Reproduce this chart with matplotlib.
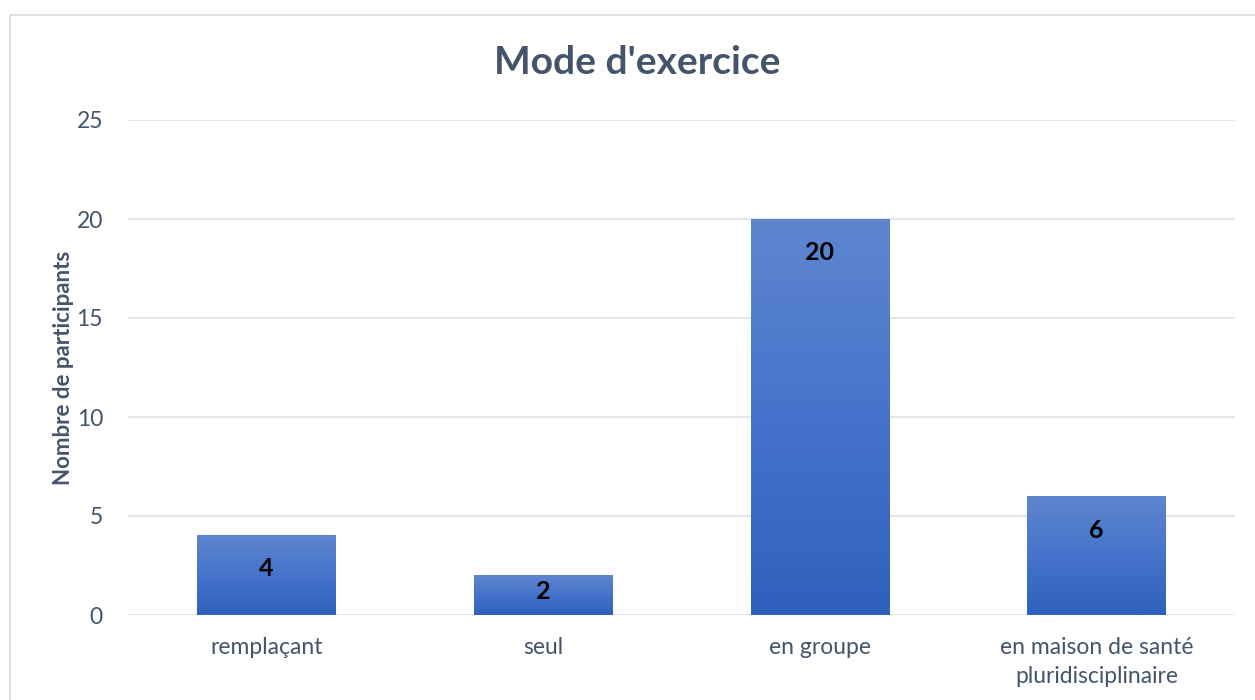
import matplotlib.pyplot as plt
import numpy as np
from matplotlib.patches import Rectangle
from matplotlib.colors import LinearSegmentedColormap

categories = ['remplaçant', 'seul', 'en groupe', 'en maison de santé\npluridisciplinaire']
values = [4, 2, 20, 6]
yticks = [0, 5, 10, 15, 20, 25]

plt.rcParams['font.family'] = ['Lato', 'DejaVu Sans']
text_color = '#44546A'
grad = LinearSegmentedColormap.from_list('bar', ['#2E61BC', '#4673CB', '#5E86CF'])

fig = plt.figure(figsize=(12.55, 7), dpi=100)
ax = fig.add_axes([128 / 1255, 1 - 615 / 700, 1107 / 1255, 495 / 700])

# chart frame
fig.patches.append(Rectangle((10 / 1255, -0.1), 1.2, 1.1 - 15 / 700,
                             transform=fig.transFigure, fill=False,
                             edgecolor='#D9D9D9', lw=1.2))

x = np.arange(len(categories))
width = 0.5
bars = ax.bar(x, values, width=width, color='none', zorder=3)
for b in bars:
    x0, h = b.get_x(), b.get_height()
    img = np.linspace(0, 1, 100).reshape(-1, 1)
    ax.imshow(img, cmap=grad, aspect='auto', origin='lower',
              extent=[x0, x0 + width, 0, h], zorder=3)

for xi, v in zip(x, values):
    off = min(34, v * 19.8 / 2.4) * 0.72
    ax.annotate(str(v), (xi, v), xytext=(0, -off), textcoords='offset points',
                ha='center', va='center', fontsize=18, fontweight='bold',
                color='black', zorder=4)

ax.set_xlim(-0.5, len(categories) - 0.5)
ax.set_ylim(0, 25)
ax.set_yticks(yticks)
ax.set_xticks(x)
ax.set_xticklabels(categories, linespacing=1.45)
ax.grid(axis='y', color='#DDE1E8', lw=1.2, zorder=0)
ax.set_axisbelow(True)
for s in ax.spines.values():
    s.set_visible(False)
ax.tick_params(length=0, labelsize=16.5, colors=text_color, pad=16)
ax.tick_params(axis='y', pad=18)
ax.set_ylabel('Nombre de participants', fontsize=16, fontweight='bold',
              color=text_color, labelpad=2)
fig.text(637 / 1255, 1 - 63 / 700, "Mode d'exercice", ha='center', va='center',
         fontsize=28, fontweight='bold', color=text_color)

fig.savefig('out.png', dpi=100)
